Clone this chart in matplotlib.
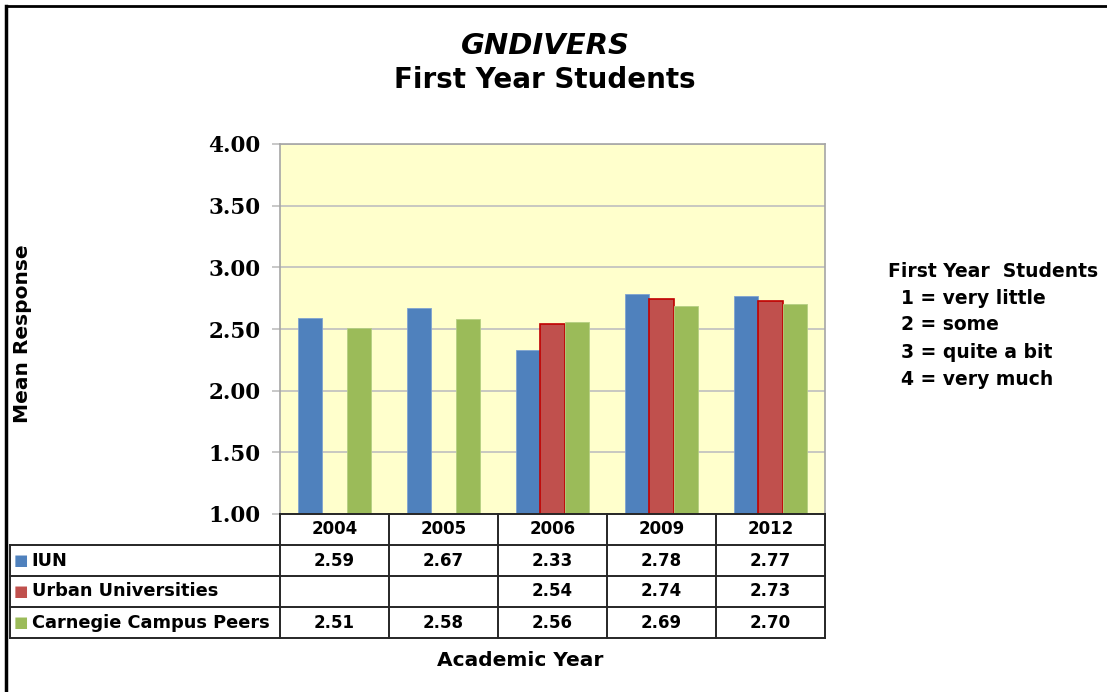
import matplotlib
matplotlib.use("Agg")
import matplotlib.pyplot as plt
import numpy as np

years = ['2004', '2005', '2006', '2009', '2012']
series_names = ['IUN', 'Urban Universities', 'Carnegie Campus Peers']
iun = [2.59, 2.67, 2.33, 2.78, 2.77]
urban = [None, None, 2.54, 2.74, 2.73]
carnegie = [2.51, 2.58, 2.56, 2.69, 2.70]
yticks = [1.0, 1.5, 2.0, 2.5, 3.0, 3.5, 4.0]
scale_lines = ['First Year  Students', '  1 = very little', '  2 = some',
               '  3 = quite a bit', '  4 = very much']

colors = ['#4F81BD', '#C0504D', '#9BBB59']
edges = ['#7FA3D0', '#C00000', '#B5CF82']

W, H = 1107, 692
fig = plt.figure(figsize=(W / 100, H / 100), dpi=100)

# outer frame (top and left only visible)
fig.add_artist(plt.Line2D([6 / W, 1], [1 - 6 / H, 1 - 6 / H], color='black', lw=2))
fig.add_artist(plt.Line2D([6 / W, 6 / W], [0, 1 - 6 / H], color='black', lw=2.5))

# main plot area in pixels: x 280..825, y 144..514
px0, px1, py0, py1 = 280, 825, 144, 514
ax = fig.add_axes([px0 / W, 1 - py1 / H, (px1 - px0) / W, (py1 - py0) / H])
ax.set_facecolor('#FFFFCC')

x = np.arange(len(years))
bw = 0.225
series = [iun, urban, carnegie]
for i, vals in enumerate(series):
    xs = [x[j] + (i - 1) * bw for j in range(len(vals)) if vals[j] is not None]
    hs = [v - 1.0 for v in vals if v is not None]
    ax.bar(xs, hs, bottom=1.0, width=bw, color=colors[i], edgecolor=edges[i],
           linewidth=1.2 if i == 1 else 0.6, zorder=3)

ax.set_xlim(-0.5, len(years) - 0.5)
ax.set_ylim(1.0, 4.0)
ax.set_yticks(yticks)
ax.set_yticklabels(['%.2f' % t for t in yticks], family='DejaVu Serif',
                   fontweight='bold', fontsize=15.5)
ax.set_xticks([])
ax.grid(axis='y', color='#BFBFBF', lw=1.2, zorder=0)
ax.tick_params(axis='y', length=6, color='#BFBFBF', width=1.2, pad=8)
for s in ['left', 'top', 'right']:
    ax.spines[s].set_color('#A6A6A6')
    ax.spines[s].set_linewidth(1.2)
ax.spines['bottom'].set_visible(False)

# data table below the plot
tx0, ty1 = 10, 638
tab = fig.add_axes([tx0 / W, 1 - ty1 / H, (px1 - tx0) / W, (ty1 - py1) / H])
unit = (px1 - px0) / len(years)
xl = -0.5 - (px0 - tx0) / unit
tab.set_xlim(xl, len(years) - 0.5)
tab.set_ylim(0, 4)
tab.axis('off')

lc = '#262626'
lw = 1.4
for k in range(len(years) + 1):
    tab.plot([k - 0.5, k - 0.5], [0, 4], color=lc, lw=lw, clip_on=False)
tab.plot([xl, xl], [0, 3], color=lc, lw=lw, clip_on=False)
tab.plot([-0.5, len(years) - 0.5], [4, 4], color=lc, lw=lw, clip_on=False)
for yy in [3, 2, 1, 0]:
    tab.plot([xl, len(years) - 0.5], [yy, yy], color=lc, lw=lw, clip_on=False)

tfont = dict(family='DejaVu Sans', fontweight='bold', fontsize=12)
for j, yr in enumerate(years):
    tab.text(j, 3.5, yr, ha='center', va='center', **tfont)
for i, vals in enumerate(series):
    yc = 2.5 - i
    tab.text(xl + 0.03, yc, '\u25A0', color=colors[i], ha='left', va='center',
             family='DejaVu Sans', fontsize=11)
    tab.text(xl + 0.2, yc, series_names[i], ha='left', va='center',
             family='DejaVu Sans', fontweight='bold', fontsize=12.8)
    for j, v in enumerate(vals):
        if v is not None:
            tab.text(j, yc, '%.2f' % v, ha='center', va='center', **tfont)

# titles and axis labels
fig.text(545 / W, 1 - 46 / H, 'GNDIVERS', ha='center', va='center',
         fontsize=21, fontweight='bold', style='italic', family='DejaVu Sans')
fig.text(545 / W, 1 - 80 / H, 'First Year Students', ha='center', va='center',
         fontsize=20, fontweight='bold', family='DejaVu Sans')
fig.text(520 / W, 1 - 661 / H, 'Academic Year', ha='center', va='center',
         fontsize=14.5, fontweight='bold', family='DejaVu Sans')
fig.text(23 / W, 1 - 334 / H, 'Mean Response', ha='center', va='center',
         rotation=90, fontsize=14.5, fontweight='bold', family='DejaVu Sans')

for i, line in enumerate(scale_lines):
    fig.text(888 / W, 1 - (271 + i * 27) / H, line, ha='left', va='center',
             fontsize=13.5, fontweight='bold', family='DejaVu Sans')

fig.savefig('out.png', dpi=100, facecolor='white')
